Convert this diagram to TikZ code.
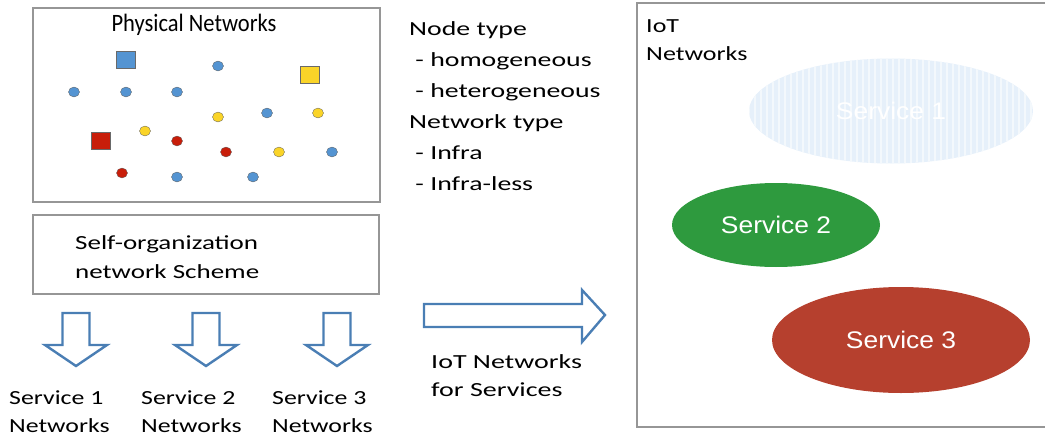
\documentclass[tikz,border=0pt]{standalone}
\usepackage{fontspec}
\setmainfont{Carlito}
\newfontfamily\titlefont[FakeStretch=0.9]{Carlito}
\newfontfamily\typesfont[FakeStretch=1.39]{Carlito}
\newfontfamily\selffont[FakeStretch=1.35]{Carlito}
\newfontfamily\svcnetfont[FakeStretch=1.29]{Carlito}
\newfontfamily\mapfont[FakeStretch=1.4]{Carlito}
\newfontfamily\iotfont[FakeStretch=1.3]{Carlito}
\newfontfamily\arialfont[FakeStretch=1.1]{Liberation Sans}
\usetikzlibrary{shapes.geometric}
\definecolor{boxgray}{RGB}{150,150,150}
\definecolor{arrowblue}{RGB}{74,126,180}
\definecolor{dotblue}{RGB}{84,148,210}
\definecolor{dotyellow}{RGB}{250,212,40}
\definecolor{dotred}{RGB}{200,30,10}
\definecolor{svcone}{RGB}{230,240,250}
\definecolor{svctwo}{RGB}{46,154,62}
\definecolor{svcthree}{RGB}{182,64,46}
\tikzset{
  panel/.style={draw=boxgray, line width=1.2pt},
  lbl/.style={inner sep=0pt, align=left},
  sq/.style={draw=boxgray!70!black, line width=0.4pt, minimum width=19pt, minimum height=17pt, inner sep=0pt},
  dot/.style={ellipse, draw=boxgray!60!black, line width=0.3pt, minimum width=11pt, minimum height=10pt, inner sep=0pt},
  bdot/.style={dot, fill=dotblue},
  ydot/.style={dot, fill=dotyellow},
  rdot/.style={dot, fill=dotred},
  hollowarrow/.style={draw=arrowblue, fill=white, line width=2.4pt, line join=miter},
  svc/.style={ellipse, inner sep=0pt, text=white, font=\arialfont\fontsize{24}{26}\selectfont},
}
\begin{document}
\begin{tikzpicture}[x=1pt,y=-1pt]
\useasboundingbox (0,0) rectangle (1045,439);

% physical network panel
\node[panel, minimum width=347pt, minimum height=194pt, inner sep=0pt] (phys) at (206.5,105) {};
\node[lbl, font=\titlefont\fontsize{25}{30}\selectfont] (physt) at (194,25) {Physical Networks};
\node[sq, fill=dotblue] (s1) at (126,60) {};
\node[sq, fill=dotyellow] (s2) at (310,75) {};
\node[sq, fill=dotred] (s3) at (101,141) {};
\node[bdot] (b1) at (74,92) {};
\node[bdot] (b2) at (126,92) {};
\node[bdot] (b3) at (177,92) {};
\node[bdot] (b4) at (218,66) {};
\node[bdot] (b5) at (267,113) {};
\node[bdot] (b6) at (332,152) {};
\node[bdot] (b7) at (177,177) {};
\node[bdot] (b8) at (253,177) {};
\node[ydot] (y1) at (218,117) {};
\node[ydot] (y2) at (318,113) {};
\node[ydot] (y3) at (145,131) {};
\node[ydot] (y4) at (279,152) {};
\node[rdot] (r1) at (177,141) {};
\node[rdot] (r2) at (226,152) {};
\node[rdot] (r3) at (122,173) {};

% node and network types
\node[lbl, anchor=north west, font=\typesfont\fontsize{20}{31}\selectfont] (types) at (409,21) {Node type\\
\ - homogeneous\\
\ - heterogeneous\\
Network type\\
\ - Infra\\
\ - Infra-less};

% self-organization scheme
\node[panel, minimum width=346pt, minimum height=79pt, inner sep=0pt] (self) at (206,254.5) {};
\node[lbl, anchor=west, font=\selffont\fontsize{20}{29}\selectfont] (selft) at (75,257) {Self-organization\\network Scheme};

% hollow arrows from the scheme to each service network
\foreach \cx/\nm in {76/d1, 206/d2, 337/d3} {
  \draw[hollowarrow] (\cx-13.5,313) -- (\cx+13.5,313) -- (\cx+13.5,345) -- (\cx+31,345)
    -- (\cx,366) coordinate (\nm) -- (\cx-31,345) -- (\cx-13.5,345) -- cycle;
}
\node[lbl, anchor=north west, font=\svcnetfont\fontsize{20}{28}\selectfont] (n1) at (9,391) {Service 1\\Networks};
\node[lbl, anchor=north west, font=\svcnetfont\fontsize{20}{28}\selectfont] (n2) at (141,391) {Service 2\\Networks};
\node[lbl, anchor=north west, font=\svcnetfont\fontsize{20}{28}\selectfont] (n3) at (272,391) {Service 3\\Networks};

% mapping arrow
\draw[hollowarrow] (424,304) -- (582,304) -- (582,290) -- (605,315) coordinate (maptip)
  -- (582,342) -- (582,327) -- (424,327) -- cycle;
\node[lbl, anchor=north west, font=\mapfont\fontsize{20}{28}\selectfont] (mapt) at (431,354) {IoT Networks\\for Services};

% IoT networks panel
\coordinate (pa) at (1046,3);
\coordinate (pb) at (637,3);
\coordinate (pc) at (637,427);
\coordinate (pd) at (1046,427);
\draw[panel] (pa) -- (pb) -- (pc) -- (pd);
\node[lbl, anchor=north west, font=\iotfont\fontsize{20}{28}\selectfont] (iott) at (646,19) {IoT\\Networks};

\node[ellipse, fill=svcone, minimum width=284pt, minimum height=105pt, inner sep=0pt] (e1) at (891,111) {};
\begin{scope}
  \clip (e1.center) ellipse [x radius=142pt, y radius=52.5pt];
  \foreach \i in {0,...,48} {
    \draw[white!50!svcone, line width=1.5pt] (749+\i*6,55) -- (749+\i*6,170);
  }
\end{scope}
\node[text=white, font=\arialfont\fontsize{24}{26}\selectfont, inner sep=0pt] (e1t) at (e1.center) {Service 1};
\node[svc, fill=svctwo, minimum width=208pt, minimum height=84pt] (e2) at (776,225) {Service 2};
\node[svc, fill=svcthree, minimum width=258pt, minimum height=106pt] (e3) at (901,340) {Service 3};
\end{tikzpicture}
\end{document}
